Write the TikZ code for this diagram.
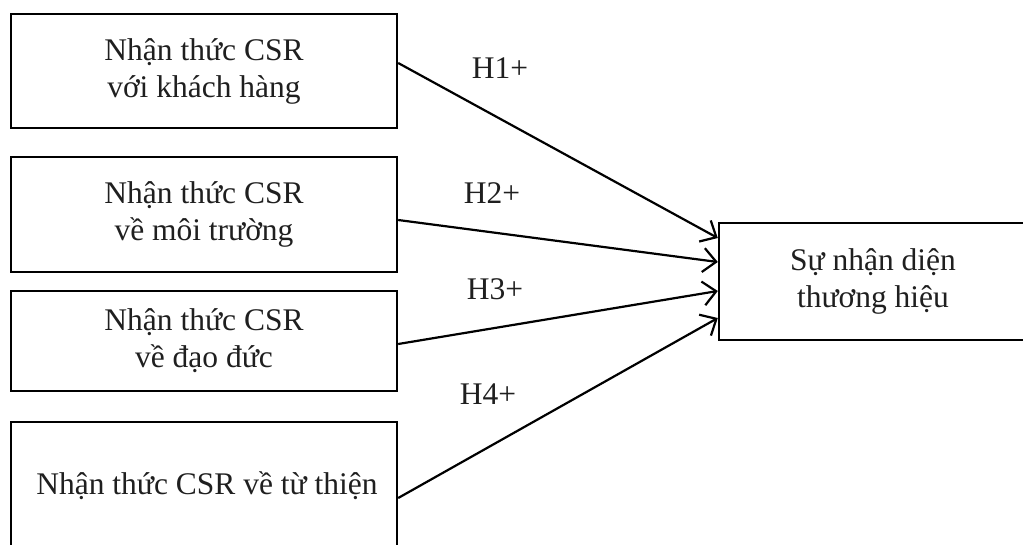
\documentclass[tikz,border=0pt]{standalone}
\usepackage{fontspec}
\setmainfont{Liberation Serif}
\usetikzlibrary{arrows.meta}
\tikzset{
  box/.style={draw=black, line width=2.4pt, rectangle, align=center, inner sep=0pt,
    font=\fontsize{31.5}{37}\selectfont, text=black!88},
  hlabel/.style={font=\fontsize{31.5}{37}\selectfont, text=black!88, inner sep=0pt},
  conn/.style={line width=2.2pt, -{Straight Barb[length=13pt,width=24pt,line width=2.2pt]}}
}
\begin{document}
\begin{tikzpicture}[x=1pt,y=-1pt]
\useasboundingbox (0,0) rectangle (1023,544);
\clip (0,0) rectangle (1023,544);
\node[box, minimum width=386pt, minimum height=114pt] (b1) at (204,71) {Nhận thức CSR\\với khách hàng};
\node[box, minimum width=386pt, minimum height=115pt] (b2) at (204,214.5) {Nhận thức CSR\\về môi trường};
\node[box, minimum width=386pt, minimum height=100pt] (b3) at (204,341) {Nhận thức CSR\\về đạo đức};
\node[box, minimum width=386pt, minimum height=128pt] (b4) at (204,486) {\hspace*{6pt}Nhận thức CSR về từ thiện};
\node[box, minimum width=308pt, minimum height=117pt] (t) at (873,281.5) {Sự nhận diện\\thương hiệu};
\draw[conn] ([yshift=8pt]b1.east) -- ([yshift=43.5pt]t.west);
\draw[conn] ([yshift=-5.5pt]b2.east) -- ([yshift=19.5pt]t.west);
\draw[conn] ([yshift=-3pt]b3.east) -- ([yshift=-9.5pt]t.west);
\draw[conn] ([yshift=-12pt]b4.east) -- ([yshift=-36.5pt]t.west);
\node[hlabel] (h1) at (500,68) {H1+};
\node[hlabel] (h2) at (492,193) {H2+};
\node[hlabel] (h3) at (495,289) {H3+};
\node[hlabel] (h4) at (488,394) {H4+};
\end{tikzpicture}
\end{document}
